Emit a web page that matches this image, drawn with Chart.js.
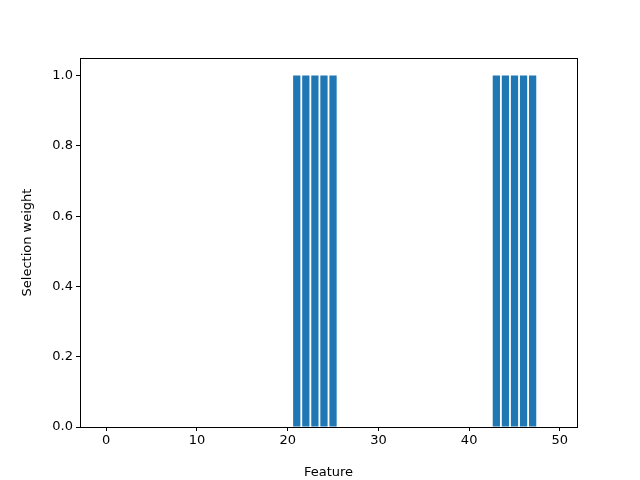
<!DOCTYPE html>
<html>
<head>
<script src="https://cdn.jsdelivr.net/npm/chart.js@4"></script>
<style>body{margin:0;background:#fff}</style>
</head>
<body>
<canvas id="c" width="640" height="480"></canvas>
<script>
const features = Array.from({length: 50}, (_, i) => i);
const weights = [0,0,0,0,0,0,0,0,0,0, 0,0,0,0,0,0,0,0,0,0, 0,1,1,1,1,1,0,0,0,0,
                 0,0,0,0,0,0,0,0,0,0, 0,0,0,1,1,1,1,1,0,0];
const xTicks = [0, 10, 20, 30, 40, 50];
const yTicks = [0, 0.2, 0.4, 0.6, 0.8, 1.0];

Chart.defaults.font.family = 'DejaVu Sans';
Chart.defaults.font.size = 13;
Chart.defaults.color = '#000';

const boxPlugin = {
    id: 'box',
    afterDraw(chart) {
        const a = chart.chartArea, ctx = chart.ctx;
        ctx.save();
        ctx.strokeStyle = '#000';
        ctx.lineWidth = 1;
        ctx.strokeRect(a.left + 0.5, a.top + 0.5, a.right - a.left, a.bottom - a.top);
        ctx.restore();
    }
};

new Chart(document.getElementById('c'), {
    type: 'bar',
    data: {
        datasets: [{
            data: features.map((f, i) => ({x: f, y: weights[i]})),
            backgroundColor: '#1f77b4',
            borderWidth: 0,
            barPercentage: 0.8,
            categoryPercentage: 1.0
        }]
    },
    options: {
        responsive: false,
        animation: false,
        plugins: {legend: {display: false}, tooltip: {enabled: false}},
        layout: {padding: {top: 58, right: 63, left: 20, bottom: 0}},
        scales: {
            x: {
                type: 'linear',
                offset: false,
                min: -2.89, max: 51.89,
                afterBuildTicks: s => { s.ticks = xTicks.map(v => ({value: v})); },
                afterFit: s => { s.height = 53; },
                grid: {drawOnChartArea: false, offset: false, tickLength: 4, color: '#000'},
                border: {color: '#000'},
                ticks: {padding: 2, maxRotation: 0},
                title: {display: true, text: 'Feature', padding: {top: 0, bottom: 0}}
            },
            y: {
                min: 0, max: 1.05,
                afterBuildTicks: s => { s.ticks = yTicks.map(v => ({value: v})); },
                afterFit: s => { s.width = 60; },
                grid: {drawOnChartArea: false, tickLength: 4, color: '#000'},
                border: {color: '#000'},
                ticks: {padding: 3, callback: v => v.toFixed(1)},
                title: {display: true, text: 'Selection weight', padding: 0}
            }
        }
    },
    plugins: [boxPlugin]
});
</script>
</body>
</html>
